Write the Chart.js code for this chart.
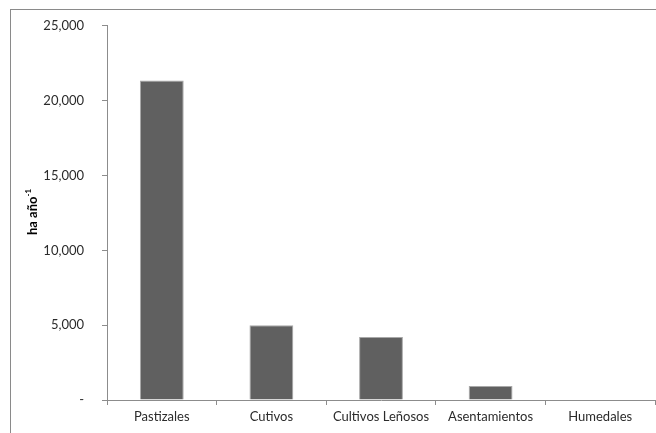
<!DOCTYPE html>
<html>
<head>
<meta charset="utf-8">
<script src="https://cdn.jsdelivr.net/npm/chart.js@4/dist/chart.umd.min.js"></script>
<style>
  html, body { margin: 0; padding: 0; background: #fff; }
  #wrap { width: 656px; height: 433px; position: relative; }
</style>
</head>
<body>
<div id="wrap"><canvas id="landChart"></canvas></div>
<script>
// Data
const categories = ['Pastizales', 'Cutivos', 'Cultivos Leñosos', 'Asentamientos', 'Humedales'];
const areaValues = [21350, 4990, 4210, 930, 0];
const yTicks = [0, 5000, 10000, 15000, 20000, 25000];

const axisColor = '#8c8c8c';
const textColor = '#2b2b2b';
const fontFamily = 'Lato, "Open Sans", sans-serif';

// Outer frame + rotated y axis title with superscript
const framePlugin = {
    id: 'frame',
    beforeDraw(chart) {
        const c = chart.ctx;
        c.save();
        c.strokeStyle = '#8a8a8a';
        c.lineWidth = 1;
        c.strokeRect(10.5, 9.5, 700, 500);
        c.restore();
    },
    afterDraw(chart) {
        const c = chart.ctx;
        c.save();
        c.translate(33, 212);
        c.rotate(-Math.PI / 2);
        c.fillStyle = '#000';
        c.textBaseline = 'middle';
        c.font = 'bold 13px ' + fontFamily;
        const main = 'ha año';
        const sup = '-1';
        const wMain = c.measureText(main).width;
        c.font = 'bold 8px ' + fontFamily;
        const wSup = c.measureText(sup).width;
        const start = -(wMain + wSup) / 2;
        c.font = 'bold 13px ' + fontFamily;
        c.textAlign = 'left';
        c.fillText(main, start, 0);
        c.font = 'bold 8px ' + fontFamily;
        c.fillText(sup, start + wMain, -5);
        c.restore();
    }
};

new Chart(document.getElementById('landChart'), {
    type: 'bar',
    data: {
        labels: categories,
        datasets: [{
            data: areaValues,
            backgroundColor: '#606060',
            borderColor: '#a8a8a8',
            borderWidth: 1,
            categoryPercentage: 1,
            barPercentage: 0.4
        }]
    },
    options: {
        responsive: true,
        maintainAspectRatio: false,
        animation: false,
        layout: {
            padding: { top: 24, left: 10, right: 1, bottom: 0 }
        },
        plugins: {
            legend: { display: false },
            tooltip: { enabled: false }
        },
        scales: {
            x: {
                grid: {
                    display: true,
                    offset: true,
                    drawOnChartArea: false,
                    tickLength: 5,
                    color: axisColor
                },
                border: { display: true, color: axisColor },
                ticks: {
                    color: textColor,
                    padding: 4,
                    maxRotation: 0,
                    font: { family: fontFamily, size: 13 }
                },
                afterFit(scale) { scale.height = 33; }
            },
            y: {
                min: 0,
                max: 25000,
                afterBuildTicks(scale) {
                    scale.ticks = yTicks.map(v => ({ value: v }));
                },
                grid: {
                    display: true,
                    drawOnChartArea: false,
                    tickLength: 5,
                    color: axisColor
                },
                border: { display: true, color: axisColor },
                ticks: {
                    color: textColor,
                    padding: 18,
                    font: { family: fontFamily, size: 13 },
                    callback: function(value) {
                        return value === 0 ? '-' : value.toLocaleString('en-US');
                    }
                },
                afterFit(scale) { scale.width = 97; }
            }
        }
    },
    plugins: [framePlugin]
});
</script>
</body>
</html>
